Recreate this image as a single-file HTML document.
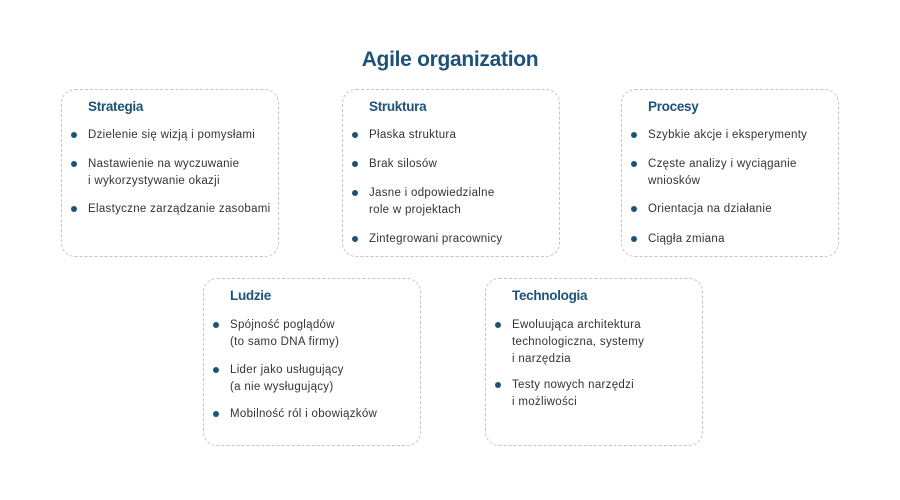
<!DOCTYPE html>
<html><head><meta charset="utf-8"><style>
body{margin:0;width:900px;height:500px;background:#fff;position:relative;font-family:"Liberation Sans",sans-serif;overflow:hidden}
.b{position:absolute;border:1.6px dashed #c4c4c4;border-radius:14px;box-sizing:border-box}
.h{position:absolute;font-weight:bold;font-size:13.5px;color:#1d5378;letter-spacing:-0.3px}
.t{position:absolute;font-size:11.5px;color:#333;line-height:17px;white-space:nowrap;letter-spacing:0.3px}
.d{position:absolute;width:6px;height:6px;border-radius:50%;background:#1d5378}
</style></head><body>
<div style="position:absolute;left:0;width:900px;top:48px;text-align:center;font-weight:bold;font-size:21px;color:#1d5378;letter-spacing:-0.3px">Agile organization</div>

<div class="b" style="left:61px;top:89px;width:218px;height:168px"></div>
<div class="h" style="left:88px;top:99px">Strategia</div>
<div class="d" style="left:71px;top:132px"></div><div class="t" style="left:88px;top:127px">Dzielenie się wizją i pomysłami</div>
<div class="d" style="left:71px;top:161px"></div><div class="t" style="left:88px;top:156px">Nastawienie na wyczuwanie<br>i wykorzystywanie okazji</div>
<div class="d" style="left:71px;top:206px"></div><div class="t" style="left:88px;top:201px">Elastyczne zarządzanie zasobami</div>

<div class="b" style="left:342px;top:89px;width:218px;height:168px"></div>
<div class="h" style="left:369px;top:99px">Struktura</div>
<div class="d" style="left:352px;top:132px"></div><div class="t" style="left:369px;top:127px">Płaska struktura</div>
<div class="d" style="left:352px;top:161px"></div><div class="t" style="left:369px;top:156px">Brak silosów</div>
<div class="d" style="left:352px;top:190px"></div><div class="t" style="left:369px;top:185px">Jasne i odpowiedzialne<br>role w projektach</div>
<div class="d" style="left:352px;top:236px"></div><div class="t" style="left:369px;top:231px">Zintegrowani pracownicy</div>

<div class="b" style="left:621px;top:89px;width:218px;height:168px"></div>
<div class="h" style="left:648px;top:99px">Procesy</div>
<div class="d" style="left:631px;top:132px"></div><div class="t" style="left:648px;top:127px">Szybkie akcje i eksperymenty</div>
<div class="d" style="left:631px;top:161px"></div><div class="t" style="left:648px;top:156px">Częste analizy i wyciąganie<br>wniosków</div>
<div class="d" style="left:631px;top:206px"></div><div class="t" style="left:648px;top:201px">Orientacja na działanie</div>
<div class="d" style="left:631px;top:236px"></div><div class="t" style="left:648px;top:231px">Ciągła zmiana</div>

<div class="b" style="left:203px;top:278px;width:218px;height:168px"></div>
<div class="h" style="left:230px;top:288px">Ludzie</div>
<div class="d" style="left:213px;top:322px"></div><div class="t" style="left:230px;top:317px">Spójność poglądów<br>(to samo DNA firmy)</div>
<div class="d" style="left:213px;top:367px"></div><div class="t" style="left:230px;top:362px">Lider jako usługujący<br>(a nie wysługujący)</div>
<div class="d" style="left:213px;top:411px"></div><div class="t" style="left:230px;top:406px">Mobilność ról i obowiązków</div>

<div class="b" style="left:485px;top:278px;width:218px;height:168px"></div>
<div class="h" style="left:512px;top:288px">Technologia</div>
<div class="d" style="left:495px;top:322px"></div><div class="t" style="left:512px;top:317px">Ewoluująca architektura<br>technologiczna, systemy<br>i narzędzia</div>
<div class="d" style="left:495px;top:382px"></div><div class="t" style="left:512px;top:377px">Testy nowych narzędzi<br>i możliwości</div>
</body></html>
